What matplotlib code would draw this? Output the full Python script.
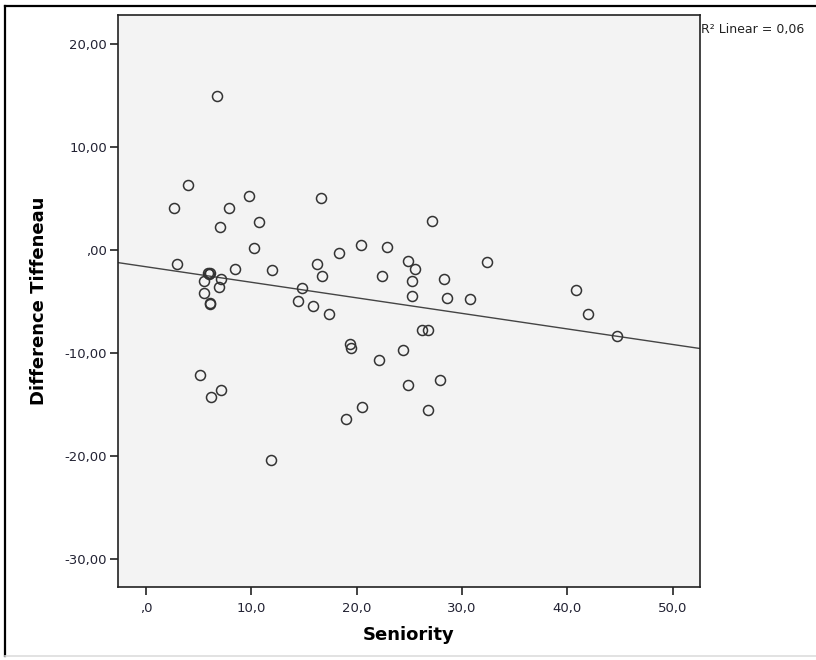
import numpy as np
import matplotlib
matplotlib.use("Agg")
import matplotlib.pyplot as plt
from matplotlib.ticker import FuncFormatter, FixedLocator
from matplotlib.lines import Line2D

# Seniority (years) and Tiffeneau index difference per subject
seniority = [6.7, 3.95, 2.65, 9.75, 7.85, 10.75, 7.05, 10.3, 16.6, 18.3,
             2.9, 5.85, 5.95, 6.05, 8.45, 11.95, 16.2, 16.7, 7.1, 5.55,
             6.95, 5.5, 6.05, 6.1, 14.8, 14.4, 15.9, 17.4, 27.2, 20.4,
             22.9, 24.9, 25.5, 32.4, 22.4, 25.3, 28.3, 25.3, 28.6, 30.8,
             26.25, 26.8, 19.4, 19.5, 24.4, 22.1, 27.9, 24.9, 20.5, 26.8,
             19.0, 40.8, 42.0, 44.7, 5.15, 6.15, 7.1, 11.9]
difference = [14.9, 6.3, 4.1, 5.2, 4.05, 2.7, 2.2, 0.2, 5.0, -0.3,
              -1.35, -2.2, -2.3, -2.2, -1.85, -1.9, -1.4, -2.55, -2.8, -3.05,
              -3.6, -4.2, -5.1, -5.25, -3.7, -4.95, -5.4, -6.2, 2.8, 0.45,
              0.3, -1.1, -1.8, -1.2, -2.5, -3.0, -2.85, -4.5, -4.7, -4.8,
              -7.8, -7.8, -9.1, -9.5, -9.7, -10.7, -12.6, -13.1, -15.2, -15.5,
              -16.4, -3.9, -6.2, -8.3, -12.1, -14.3, -13.55, -20.4]

x_ticks = [0, 10, 20, 30, 40, 50]
y_ticks = [-30, -20, -10, 0, 10, 20]
r2_label = "R² Linear = 0,06"

x = np.array(seniority)
y = np.array(difference)
slope, intercept = np.polyfit(x, y, 1)

fig = plt.figure(figsize=(8.16, 6.6), dpi=100)
fig.patch.set_facecolor("white")

# outer chart frame
fig.add_artist(Line2D([5 / 816, 5 / 816], [4 / 660, 1 - 6 / 660],
                      transform=fig.transFigure, color="black", lw=1.6))
fig.add_artist(Line2D([5 / 816, 1.0], [1 - 6 / 660, 1 - 6 / 660],
                      transform=fig.transFigure, color="black", lw=1.6))
fig.add_artist(Line2D([5 / 816, 1.0], [4 / 660, 4 / 660],
                      transform=fig.transFigure, color="#dddddd", lw=1.2))

ax = fig.add_axes([118 / 816, 1 - 587 / 660, 582 / 816, 572 / 660])
ax.set_facecolor("#f3f3f3")
for s in ax.spines.values():
    s.set_color("#222222")
    s.set_linewidth(1.2)

ax.set_xlim(-2.66, 52.6)
ax.set_ylim(-32.7, 22.8)

xs = np.array(ax.get_xlim())
ax.plot(xs, intercept + slope * xs, color="#444444", lw=1.0, zorder=2)

ax.plot(x, y, linestyle="none", marker="o", ms=7.2, mfc="none",
        mec="#333333", mew=1.1, zorder=3)

def fmt_y(v, pos):
    s = f"{v:.2f}".replace(".", ",")
    return s.replace("0,", ",", 1) if abs(v) < 1e-9 else s

def fmt_x(v, pos):
    s = f"{v:.1f}".replace(".", ",")
    return ",0" if abs(v) < 1e-9 else s

ax.xaxis.set_major_locator(FixedLocator(x_ticks))
ax.yaxis.set_major_locator(FixedLocator(y_ticks))
ax.xaxis.set_major_formatter(FuncFormatter(fmt_x))
ax.yaxis.set_major_formatter(FuncFormatter(fmt_y))
ax.tick_params(axis="both", direction="out", length=6, width=1.2,
               color="#222222", labelsize=9.5, labelcolor="#222233")
ax.tick_params(axis="x", pad=5)
ax.tick_params(axis="y", pad=2)

ax.set_xlabel("Seniority", fontsize=13, fontweight="bold", labelpad=8)
ax.set_ylabel("Difference Tiffeneau", fontsize=13, fontweight="bold", labelpad=12)

fig.text(701 / 816, 1 - 29 / 660, r2_label, fontsize=9, va="center", ha="left",
         color="#222222")

fig.savefig("out.png", dpi=100)
